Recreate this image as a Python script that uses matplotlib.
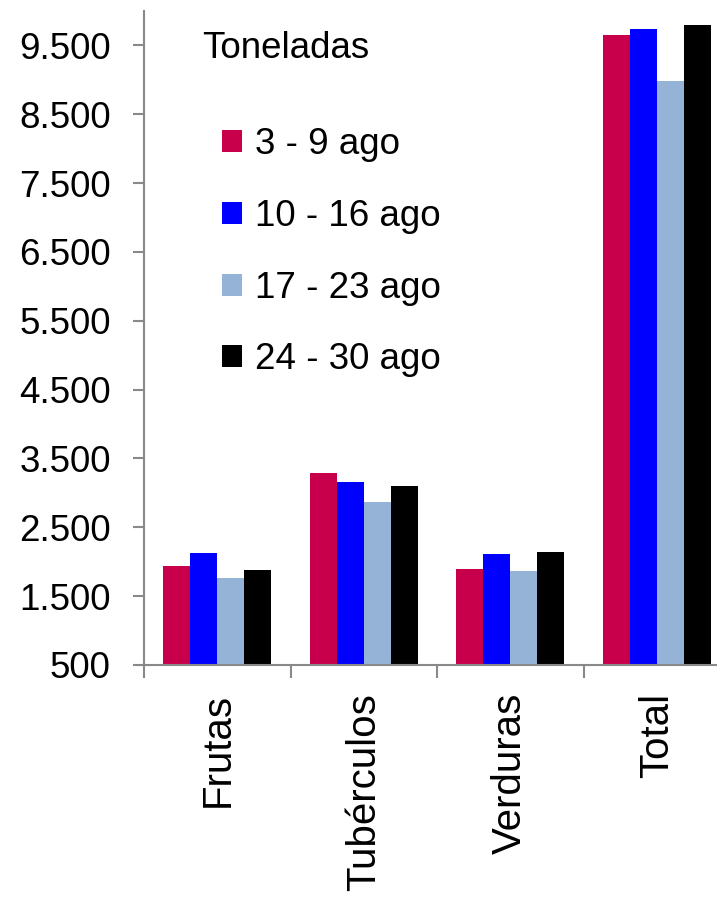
import matplotlib
matplotlib.use('Agg')
import matplotlib.pyplot as plt
import numpy as np

plt.rcParams['font.family'] = ['Liberation Sans', 'DejaVu Sans']

categories = ['Frutas', 'Tubérculos', 'Verduras', 'Total']
series_names = ['3 - 9 ago', '10 - 16 ago', '17 - 23 ago', '24 - 30 ago']
ago_3_9 = [1936, 3296, 1889, 9655]
ago_10_16 = [2129, 3160, 2106, 9738]
ago_17_23 = [1762, 2865, 1868, 8988]
ago_24_30 = [1878, 3107, 2144, 9796]
yticks = [500, 1500, 2500, 3500, 4500, 5500, 6500, 7500, 8500, 9500]
ytick_labels = ['500', '1.500', '2.500', '3.500', '4.500', '5.500',
                '6.500', '7.500', '8.500', '9.500']

colors = ['#C8004B', '#0000FF', '#95B3D7', '#000000']
axis_grey = '#898989'

fig = plt.figure(figsize=(7.17, 9), dpi=100)
# the plot runs past the right edge of the picture, as in the original
ax = fig.add_axes([144 / 717, 1 - 665 / 900, 586 / 717, 654 / 900])

x = np.arange(len(categories))
width = 0.184
all_series = [ago_3_9, ago_10_16, ago_17_23, ago_24_30]
for i, (vals, name) in enumerate(zip(all_series, series_names)):
    ax.bar(x + (i - 1.5) * width, np.array(vals) - 500, width, bottom=500,
           color=colors[i], label=name)

ax.set_xlim(-0.5, 3.5)
ax.set_ylim(500, 10000)

ax.set_yticks(yticks)
ax.set_yticklabels(ytick_labels, fontsize=26.5)
ax.tick_params(axis='y', direction='out', length=8, width=1.5,
               color=axis_grey, pad=16)

# ticks between categories, labels at the centres
ax.set_xticks(np.arange(-0.5, 4.0, 1.0))
ax.set_xticklabels([])
ax.set_xticks(x, minor=True)
ax.set_xticklabels(categories, minor=True, rotation=90, fontsize=29,
                   ha='center', va='top')
ax.tick_params(axis='x', which='major', direction='out', length=9.5,
               width=1.5, color=axis_grey)
ax.tick_params(axis='x', which='minor', length=0, pad=20)

for side in ['top', 'right']:
    ax.spines[side].set_visible(False)
for side in ['left', 'bottom']:
    ax.spines[side].set_color(axis_grey)
    ax.spines[side].set_linewidth(1.5)

fig.text(202 / 717, 1 - 48 / 900, 'Toneladas', fontsize=26.5,
         ha='left', va='center')

ax.legend(loc='upper left', bbox_to_anchor=(222 / 717, 1 - 127 / 900),
          bbox_transform=fig.transFigure, frameon=False, fontsize=26.5,
          handlelength=0.54, handleheight=0.54, handletextpad=0.36,
          labelspacing=1.0, borderpad=0, borderaxespad=0)

fig.savefig('out.png', dpi=100)
